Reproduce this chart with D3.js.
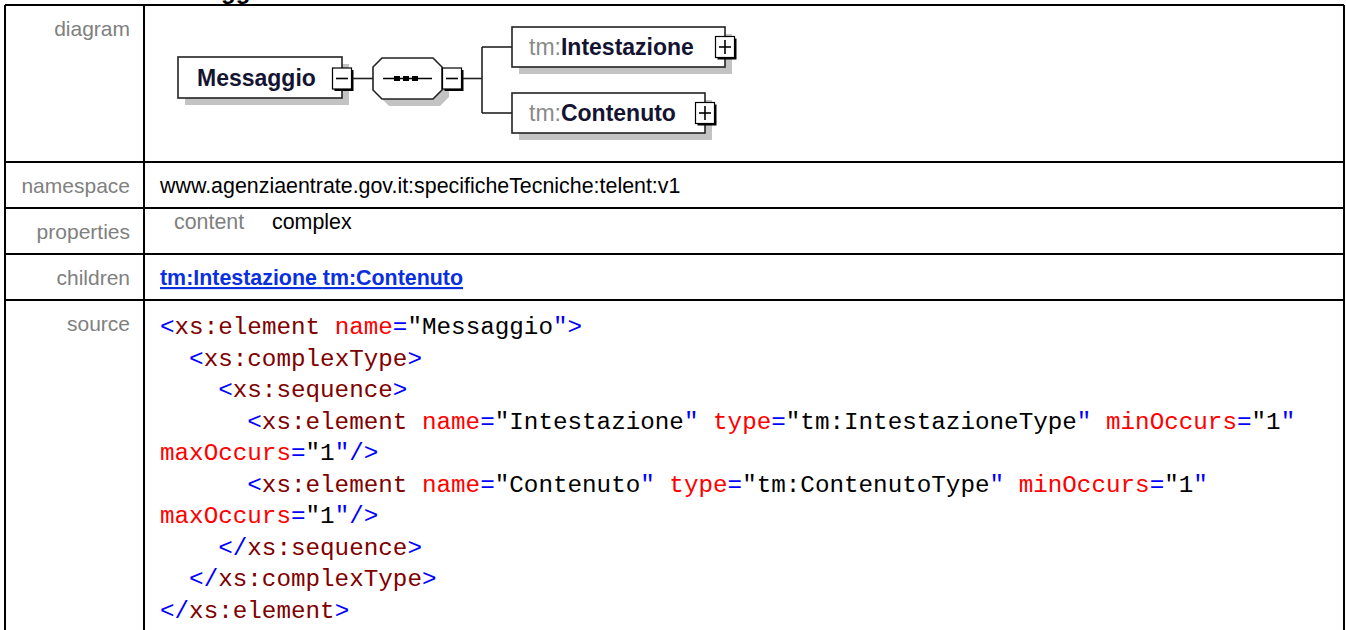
<!DOCTYPE html>
<html><head><meta charset="utf-8">
<script src="https://cdn.jsdelivr.net/npm/d3@7"></script>
<style>
html,body{margin:0;padding:0;background:#fff;overflow:hidden}
svg{display:block}
text{white-space:pre}
</style></head>
<body>
<script>
// ---- data ----
const headingText = "element Messaggio";
const rowLabels = ["diagram", "namespace", "properties", "children", "source"];
const rowEdges = [5, 162, 208, 254, 300];
const namespaceText = "www.agenziaentrate.gov.it:specificheTecniche:telent:v1";
const propertyNames = ["content"];
const propertyValues = ["complex"];
const childLinks = ["tm:Intestazione", "tm:Contenuto"];
const rootElement = "Messaggio";
const childPrefix = "tm:";
const childNames = ["Intestazione", "Contenuto"];
// code lines: indent (chars) and tokens [kind, text]; B=punct blue, T=tag, A=attr, V=value
const codeIndent = [0, 2, 4, 6, 0, 6, 0, 4, 2, 0];
const codeTokens = [
  [["B","<"],["T","xs:element"],["A"," name"],["B","="],["V","\"Messaggio"],["B","\">"]],
  [["B","<"],["T","xs:complexType"],["B",">"]],
  [["B","<"],["T","xs:sequence"],["B",">"]],
  [["B","<"],["T","xs:element"],["A"," name"],["B","="],["V","\"Intestazione"],["B","\""],["A"," type"],["B","="],["V","\"tm:IntestazioneType"],["B","\""],["A"," minOccurs"],["B","="],["V","\"1"],["B","\""]],
  [["A","maxOccurs"],["B","="],["V","\"1"],["B","\"/>"]],
  [["B","<"],["T","xs:element"],["A"," name"],["B","="],["V","\"Contenuto"],["B","\""],["A"," type"],["B","="],["V","\"tm:ContenutoType"],["B","\""],["A"," minOccurs"],["B","="],["V","\"1"],["B","\""]],
  [["A","maxOccurs"],["B","="],["V","\"1"],["B","\"/>"]],
  [["B","</"],["T","xs:sequence"],["B",">"]],
  [["B","</"],["T","xs:complexType"],["B",">"]],
  [["B","</"],["T","xs:element"],["B",">"]]
];
const tokenColor = {B:"#0000ff", T:"#800000", A:"#ff0000", V:"#000000"};

// ---- drawing ----
const W = 1346, H = 630;
const svg = d3.select("body").append("svg").attr("width", W).attr("height", H);

const xCols = d3.scaleOrdinal().domain(["left","divider","right"]).range([5, 144, 1344]);
const labelFont = "'Liberation Sans', Arial, sans-serif";
const labelSize = 21;
const valueSize = 21.4;

// heading (cut at top, as in the reference)
const hd = svg.append("text").attr("y", -1).attr("font-family", labelFont)
  .attr("font-weight", "bold").attr("font-size", 24).text(headingText);
{
  const tmp = svg.append("text").attr("font-family", labelFont).attr("font-weight","bold")
    .attr("font-size",24).text("element Messa");
  const w = tmp.node().getComputedTextLength(); tmp.remove();
  hd.attr("x", 221 - w);
}

// table lines
const g = svg.append("g").attr("stroke", "#000").attr("stroke-width", 2).attr("shape-rendering","crispEdges");
g.selectAll("line.h").data(rowEdges).join("line").attr("class","h")
  .attr("x1", xCols("left")).attr("x2", xCols("right")).attr("y1", d => d).attr("y2", d => d);
g.selectAll("line.v").data(["left","divider","right"]).join("line").attr("class","v")
  .attr("x1", d => xCols(d)).attr("x2", d => xCols(d)).attr("y1", rowEdges[0]).attr("y2", H);

// labels
const labelY = [36, 193, 239, 285, 331];
svg.selectAll("text.lbl").data(rowLabels).join("text").attr("class","lbl")
  .attr("x", 130).attr("y", (d,i) => labelY[i]).attr("text-anchor","end")
  .attr("font-family", labelFont).attr("font-size", labelSize).attr("fill", "#808080").text(d => d);

// namespace
svg.append("text").attr("x", 160).attr("y", 193).attr("font-family", labelFont)
  .attr("font-size", valueSize).attr("fill", "#000").text(namespaceText);

// properties
svg.selectAll("text.pn").data(propertyNames).join("text").attr("class","pn")
  .attr("x", 174).attr("y", 229).attr("font-family", labelFont).attr("font-size", valueSize)
  .attr("fill", "#808080").text(d => d);
svg.selectAll("text.pv").data(propertyValues).join("text").attr("class","pv")
  .attr("x", 272).attr("y", 229).attr("font-family", labelFont).attr("font-size", valueSize)
  .attr("fill", "#000").text(d => d);

// children links
{
  const t = svg.append("text").attr("x", 160).attr("y", 285).attr("font-family", labelFont)
    .attr("font-size", valueSize).attr("font-weight","bold").attr("fill", "#0a2fe0")
    .attr("text-decoration","underline");
  childLinks.forEach((c, i) => {
    t.append("tspan").text(c);
    if (i < childLinks.length - 1) t.append("tspan").attr("text-decoration","none").text(" ");
  });
}

// source code
const charW = 14.55;
const codeFont = "'Liberation Mono', 'DejaVu Sans Mono', monospace";
const yLine = d3.scaleLinear().domain([0, codeTokens.length - 1]).range([334, 618]);
codeTokens.forEach((toks, i) => {
  const t = svg.append("text").attr("x", 160 + codeIndent[i] * charW).attr("y", yLine(i))
    .attr("font-family", codeFont).attr("font-size", charW / 0.6);
  toks.forEach(([k, s]) => t.append("tspan").attr("fill", tokenColor[k]).text(s));
});

// ---- diagram ----
const dg = svg.append("g");
const shadow = "#c3c3c3";
const SH = 7;
const diagFont = "'Liberation Sans', Arial, sans-serif";
const diagSize = 23;

function toggleBox(cx, cy, plus) {
  const w = 19, h = 21, x = cx - w/2, y = cy - h/2;
  dg.append("rect").attr("x", x + 2).attr("y", y + 2).attr("width", w).attr("height", h).attr("fill", "#000");
  dg.append("rect").attr("x", x).attr("y", y).attr("width", w).attr("height", h)
    .attr("fill", "#fff").attr("stroke", "#000").attr("stroke-width", 1.2);
  dg.append("line").attr("x1", cx - 6).attr("x2", cx + 6).attr("y1", cy).attr("y2", cy)
    .attr("stroke", "#000").attr("stroke-width", 1.6);
  if (plus) dg.append("line").attr("x1", cx).attr("x2", cx).attr("y1", cy - 7).attr("y2", cy + 7)
    .attr("stroke", "#000").attr("stroke-width", 1.6);
}
function elemBox(x, y, w, h) {
  dg.append("rect").attr("x", x + SH).attr("y", y + SH).attr("width", w).attr("height", h).attr("fill", shadow);
  dg.append("rect").attr("x", x).attr("y", y).attr("width", w).attr("height", h)
    .attr("fill", "#fff").attr("stroke", "#222").attr("stroke-width", 1.6);
}

// root element
elemBox(178, 57, 164, 41);
dg.append("text").attr("x", 197).attr("y", 86).attr("font-family", diagFont).attr("font-size", diagSize)
  .attr("font-weight", "bold").attr("fill", "#141432").text(rootElement);
toggleBox(342, 78.5, false);
dg.append("line").attr("x1", 353).attr("x2", 373).attr("y1", 78.5).attr("y2", 78.5).attr("stroke","#222").attr("stroke-width",1.6);

// sequence compositor
function octa(x, y, w, h, c) {
  return d3.line()([[x+c,y],[x+w-c,y],[x+w,y+c],[x+w,y+h-c],[x+w-c,y+h],[x+c,y+h],[x,y+h-c],[x,y+c]]) + "Z";
}
dg.append("path").attr("d", octa(373+SH, 58+SH, 69, 41, 9)).attr("fill", shadow);
dg.append("path").attr("d", octa(373, 58, 69, 41, 9)).attr("fill", "#fff").attr("stroke","#222").attr("stroke-width",1.6);
dg.append("line").attr("x1", 383).attr("x2", 432).attr("y1", 78.5).attr("y2", 78.5).attr("stroke","#000").attr("stroke-width",1.6);
dg.selectAll("rect.dot").data([397, 406, 415]).join("rect").attr("class","dot")
  .attr("x", d => d - 3).attr("y", 76).attr("width", 6).attr("height", 5).attr("fill", "#000");
toggleBox(452, 78.5, false);

// branches
const childY = [47, 113];
const childW = [213, 193];
dg.append("line").attr("x1", 463).attr("x2", 482).attr("y1", 78.5).attr("y2", 78.5).attr("stroke","#222").attr("stroke-width",1.6);
dg.append("line").attr("x1", 482).attr("x2", 482).attr("y1", childY[0]).attr("y2", childY[1]).attr("stroke","#222").attr("stroke-width",1.6);
childNames.forEach((name, i) => {
  const cy = childY[i];
  dg.append("line").attr("x1", 482).attr("x2", 512).attr("y1", cy).attr("y2", cy).attr("stroke","#222").attr("stroke-width",1.6);
  elemBox(512, cy - 20, childW[i], 40);
  const t = dg.append("text").attr("x", 529).attr("y", cy + 8).attr("font-family", diagFont).attr("font-size", diagSize);
  t.append("tspan").attr("fill", "#8a8a8a").text(childPrefix);
  t.append("tspan").attr("fill", "#141432").attr("font-weight", "bold").text(name);
  toggleBox(512 + childW[i], cy, true);
});
</script>
</body></html>
